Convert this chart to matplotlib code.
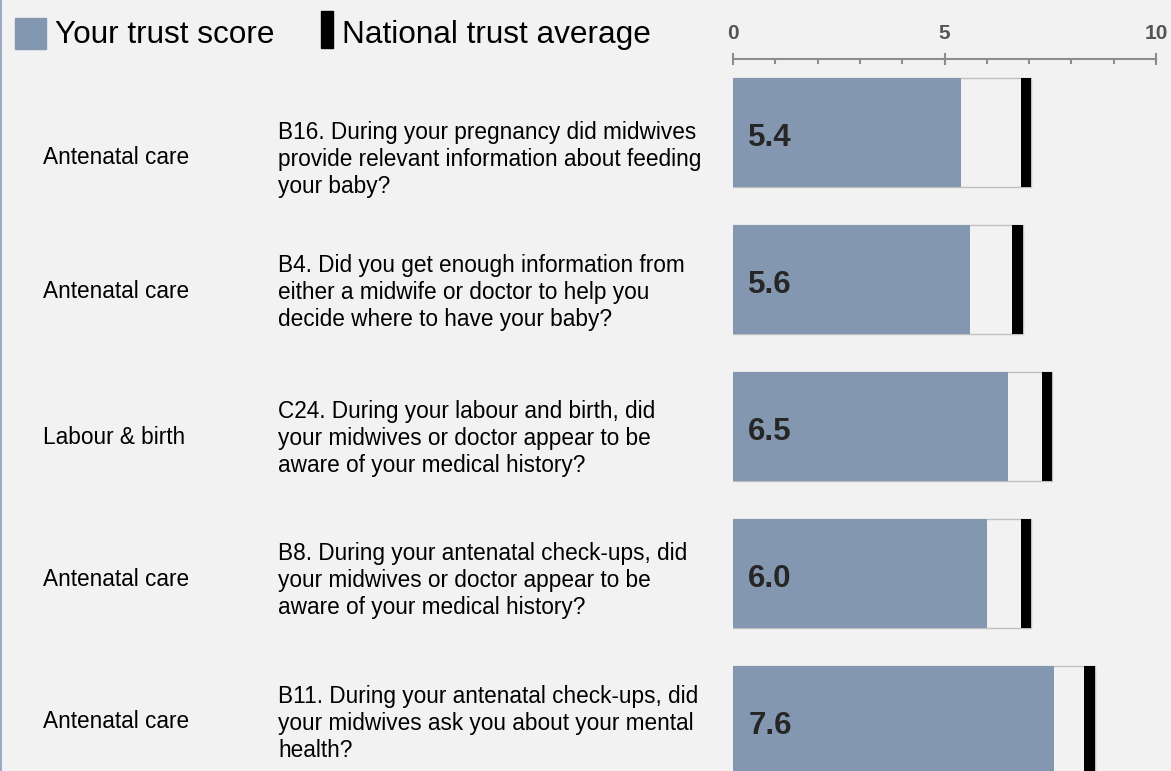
import matplotlib
matplotlib.use("Agg")
import matplotlib.pyplot as plt
from matplotlib.patches import Rectangle
from matplotlib.lines import Line2D
import numpy as np

plt.rcParams['font.family'] = ['Liberation Sans', 'DejaVu Sans']

# data
sections = ["Antenatal care", "Antenatal care", "Labour & birth", "Antenatal care", "Antenatal care"]
questions = [
    "B16. During your pregnancy did midwives\nprovide relevant information about feeding\nyour baby?",
    "B4. Did you get enough information from\neither a midwife or doctor to help you\ndecide where to have your baby?",
    "C24. During your labour and birth, did\nyour midwives or doctor appear to be\naware of your medical history?",
    "B8. During your antenatal check-ups, did\nyour midwives or doctor appear to be\naware of your medical history?",
    "B11. During your antenatal check-ups, did\nyour midwives ask you about your mental\nhealth?",
]
trust_score = [5.4, 5.6, 6.5, 6.0, 7.6]
national_avg = [7.05, 6.85, 7.55, 7.05, 8.55]

W, H = 1171, 771
BG = '#f2f2f2'
BLUE = '#8497b0'
GREY = '#8c8c8c'

fig = plt.figure(figsize=(W / 100, H / 100), dpi=100, facecolor=BG)

# chart area: 0..10 spans pixels 733..1156, axis line at y=59
ax = fig.add_axes([733 / W, 0, 423 / W, 1 - 59 / H])
ax.set_facecolor('none')

y = np.arange(len(trust_score))
h = 109 / 147
nat = np.array(national_avg)

ax.barh(y, nat, height=h, color=BG, edgecolor='#bfbfbf', linewidth=1, zorder=1)
ax.barh(y, trust_score, height=h, color=BLUE, edgecolor='none', zorder=2)
ax.barh(y, 0.25, left=nat - 0.25, height=h, color='black', edgecolor='none', zorder=3)

# score labels sit a touch below the bar centre, as in the original
for i, v in enumerate(trust_score):
    ax.text(0.36, i + 0.035, f"{v:.1f}", va='center', ha='left', fontsize=22.5,
            fontweight='bold', color='#262626', zorder=4)

ax.set_xlim(0, 10)
ax.set_ylim((771 - 132.5) / 147, -0.5)

for s in ['left', 'right', 'bottom']:
    ax.spines[s].set_visible(False)
ax.spines['top'].set_color(GREY)
ax.spines['top'].set_linewidth(1.5)

ax.xaxis.tick_top()
ax.set_xticks([0, 5, 10])
ax.set_xticks(np.arange(1, 10), minor=True)
ax.tick_params(axis='x', which='major', direction='inout', length=8, width=1.5,
               color=GREY, labelsize=15, labelcolor='#555555', pad=7.5)
ax.tick_params(axis='x', which='minor', direction='in', length=3.6, width=1.5, color=GREY)
for lab in ax.get_xticklabels():
    lab.set_fontweight('bold')
ax.set_yticks([])

# row text, left side
row_px = [158, 291, 437, 579, 722]
for sec, q, py in zip(sections, questions, row_px):
    fig.text(43 / W, 1 - py / H, sec, ha='left', va='center', fontsize=16.3, color='black')
    fig.text(278 / W, 1 - (py + 1.5) / H, q, ha='left', va='center', fontsize=16.3,
             color='black', linespacing=1.22)

# legend drawn by hand
fig.patches.append(Rectangle((15 / W, 1 - 48.7 / H), 31 / W, 30.7 / H,
                             transform=fig.transFigure, color=BLUE))
fig.text(55 / W, 1 - 43.3 / H, "Your trust score", fontsize=22.7, va='baseline', color='black')
fig.patches.append(Rectangle((321 / W, 1 - 48 / H), 12 / W, 37 / H,
                             transform=fig.transFigure, color='black'))
fig.text(342 / W, 1 - 43.3 / H, "National trust average", fontsize=22.7, va='baseline', color='black')

# thin border on the left edge
fig.lines.append(Line2D([0.8 / W, 0.8 / W], [0, 1], transform=fig.transFigure,
                        color='#9aabc4', linewidth=1.5))

fig.savefig('out.png', dpi=100, facecolor=BG)
